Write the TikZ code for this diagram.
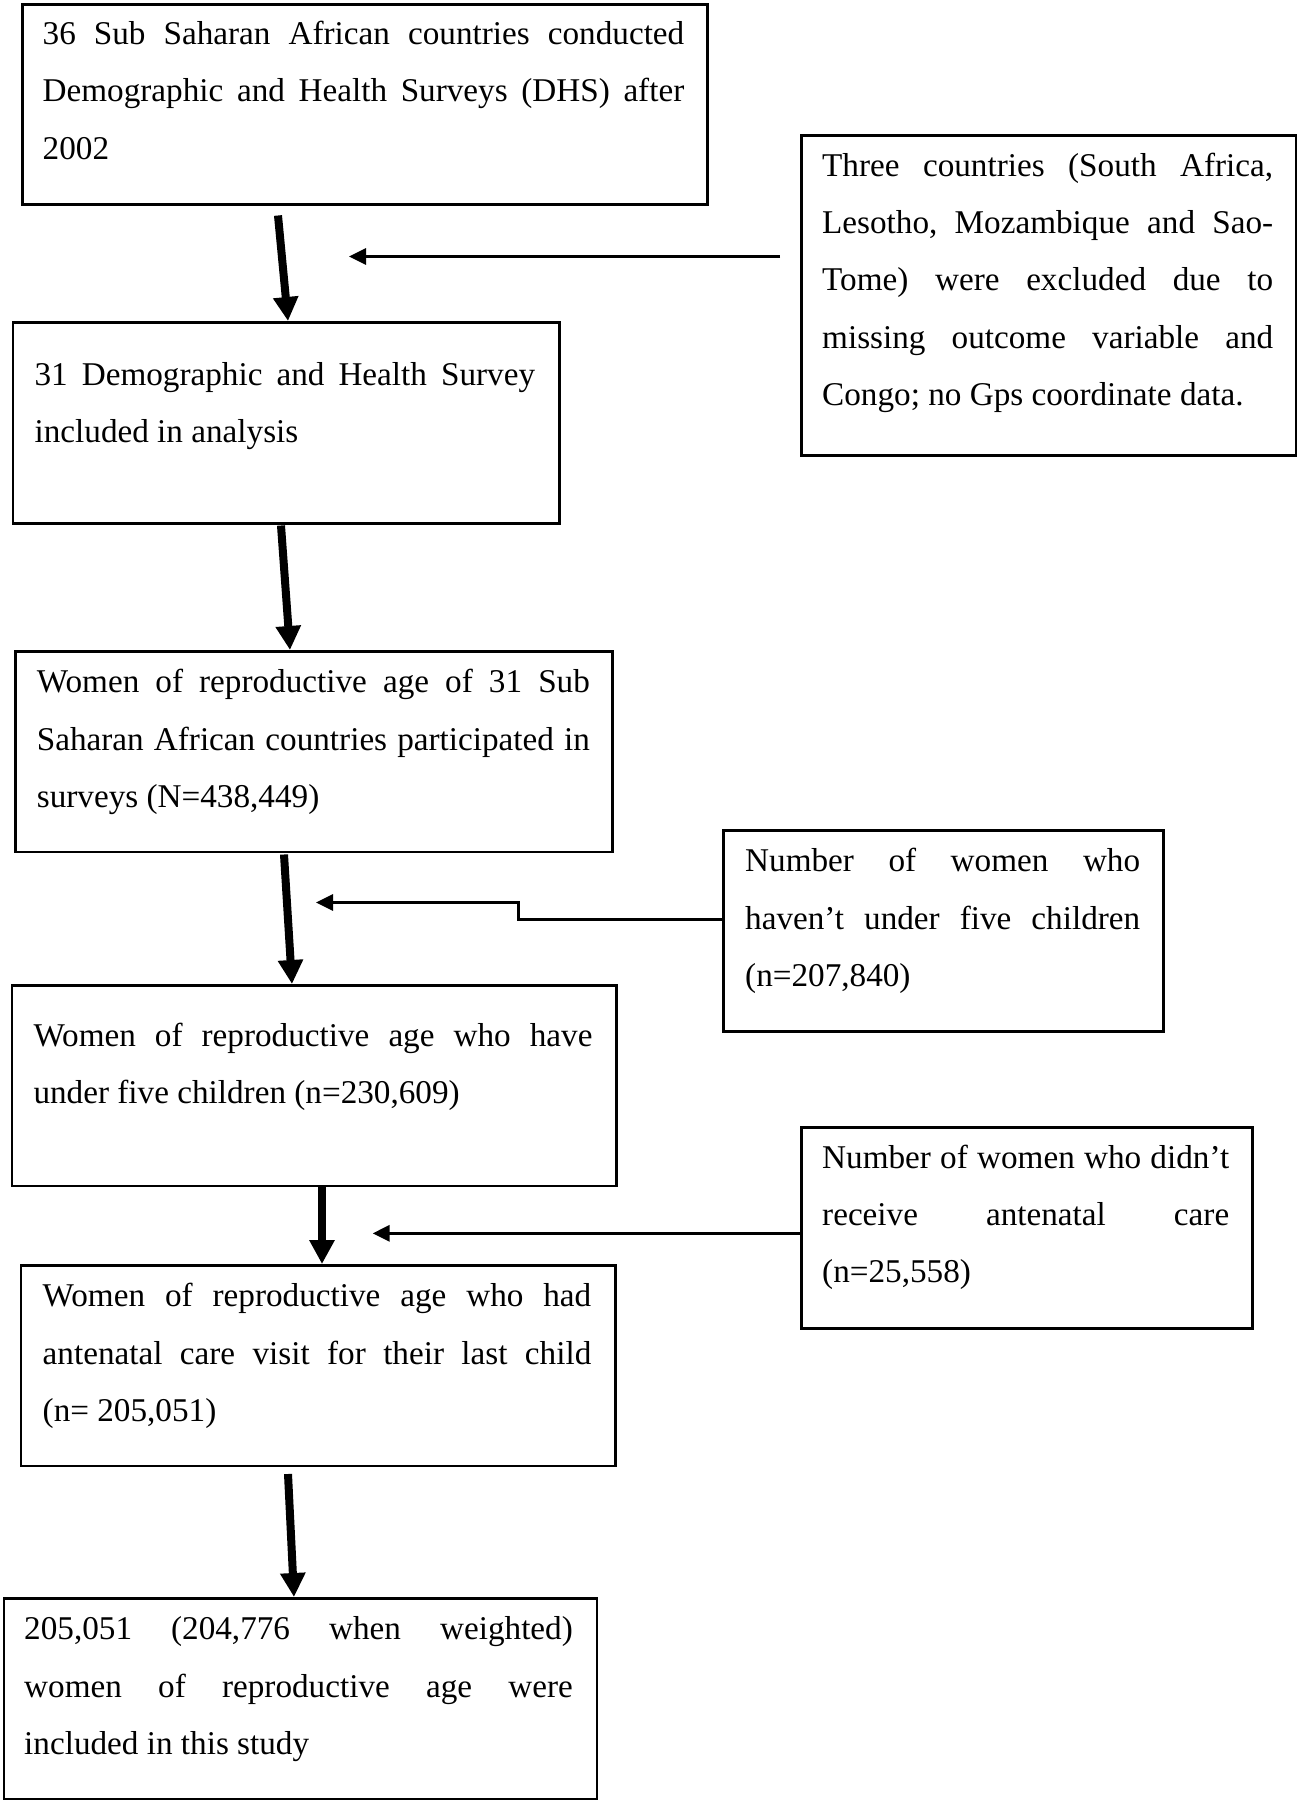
\documentclass[tikz,border=0pt]{standalone}
\usepackage{fontspec}
\setmainfont{Liberation Serif}
\usetikzlibrary{arrows.meta,calc}
\newcommand\flowfont{\fontsize{33.2}{57.4}\selectfont\frenchspacing\spaceskip=8.3pt plus 40pt minus 2pt\tolerance=9999\hyphenpenalty=10000}
\begin{document}
\begin{tikzpicture}[x=1pt,y=-1pt,
  box/.style={draw, line width=2.5pt, inner sep=0pt, anchor=north west},
  txt/.style={anchor=base west, inner sep=0pt, align=justify, font=\flowfont},
  mainarrow/.style={line width=8pt, -{Triangle[length=24pt,width=24pt]}},
  sidearrow/.style={line width=3pt, -{Triangle[length=17pt,width=16pt]}}]
\fill[white] (0,0) rectangle (1297,1800);
\useasboundingbox (0,0) rectangle (1297,1800);
% boxes
\node[box, minimum width=685pt, minimum height=200pt] (b1) at (21,3) {};
\node[box, minimum width=546.5pt, minimum height=201pt] (b2) at (11.5,321) {};
\node[box, minimum width=495pt, minimum height=320pt] (e1) at (800,134) {};
\node[box, minimum width=597pt, minimum height=200.5pt] (b3) at (14,650) {};
\node[box, minimum width=440pt, minimum height=201pt] (e2) at (722,829) {};
\node[box, minimum width=604.5pt, minimum height=200.5pt] (b4) at (10.5,984) {};
\node[box, minimum width=451pt, minimum height=201pt] (e3) at (800,1126) {};
\node[box, minimum width=594.5pt, minimum height=200.5pt] (b5) at (19.5,1264) {};
\node[box, minimum width=593pt, minimum height=200.5pt] (b6) at (2.5,1597) {};
% texts
\node[txt, text width=641.6pt] (t1) at (42.5,44.2) {36 Sub Saharan African countries conducted\linebreak Demographic and Health Surveys (DHS) after\linebreak 2002};
\node[txt, text width=500.5pt] (t2) at (34.4,385) {31 Demographic and Health Survey\linebreak included in analysis};
\node[txt, text width=451pt] (te1) at (822,176) {Three countries (South Africa,\linebreak Lesotho, Mozambique and Sao-\linebreak Tome) were excluded due to\linebreak missing outcome variable and\linebreak Congo; no Gps coordinate data.};
\node[txt, text width=553pt] (t3) at (36.7,692.7) {Women of reproductive age of 31 Sub\linebreak Saharan African countries participated in\linebreak surveys (N=438,449)};
\node[txt, text width=395pt] (te2) at (745,871.7) {Number of women who\linebreak haven’t under five children\linebreak (n=207,840)};
\node[txt, text width=559pt] (t4) at (33.3,1046) {Women of reproductive age who have\linebreak under five children (n=230,609)};
\node[txt, text width=407pt] (te3) at (822,1168) {Number of women who didn’t\linebreak receive antenatal care\linebreak (n=25,558)};
\node[txt, text width=548.6pt] (t5) at (42.5,1306.8) {Women of reproductive age who had\linebreak antenatal care visit for their last child\linebreak (n= 205,051)};
\node[txt, text width=548.7pt] (t6) at (24,1639.6) {205,051 (204,776 when weighted)\linebreak women of reproductive age were\linebreak included in this study};
% main arrows
\draw[mainarrow] ($(b1.south west)+(257,10)$) -- ($(b2.north west)+(276.5,0)$);
\draw[mainarrow] ($(b2.south west)+(269.5,1)$) -- ($(b3.north west)+(276,0)$);
\draw[mainarrow] ($(b3.south west)+(270,1.5)$) -- ($(b4.north west)+(281.5,0)$);
\draw[mainarrow] ($(b4.south west)+(311.5,0)$) -- ($(b5.north west)+(302.5,0)$);
\draw[mainarrow] ($(b5.south west)+(268.5,7)$) -- ($(b6.north west)+(291.5,0)$);
% exclusion arrows
\coordinate (c1) at (349,256.5);
\coordinate (k2) at (518,902.5);
\coordinate (c2) at (316,902.5);
\coordinate (c3) at (372.7,1233.3);
\draw[sidearrow] ($(e1.north west)+(-20,122.5)$) -- (c1);
\draw[sidearrow] ($(e2.north west)+(0,90)$) -| (k2) -- (c2);
\draw[sidearrow] ($(e3.north west)+(0,107.3)$) -- (c3);
\end{tikzpicture}
\end{document}
